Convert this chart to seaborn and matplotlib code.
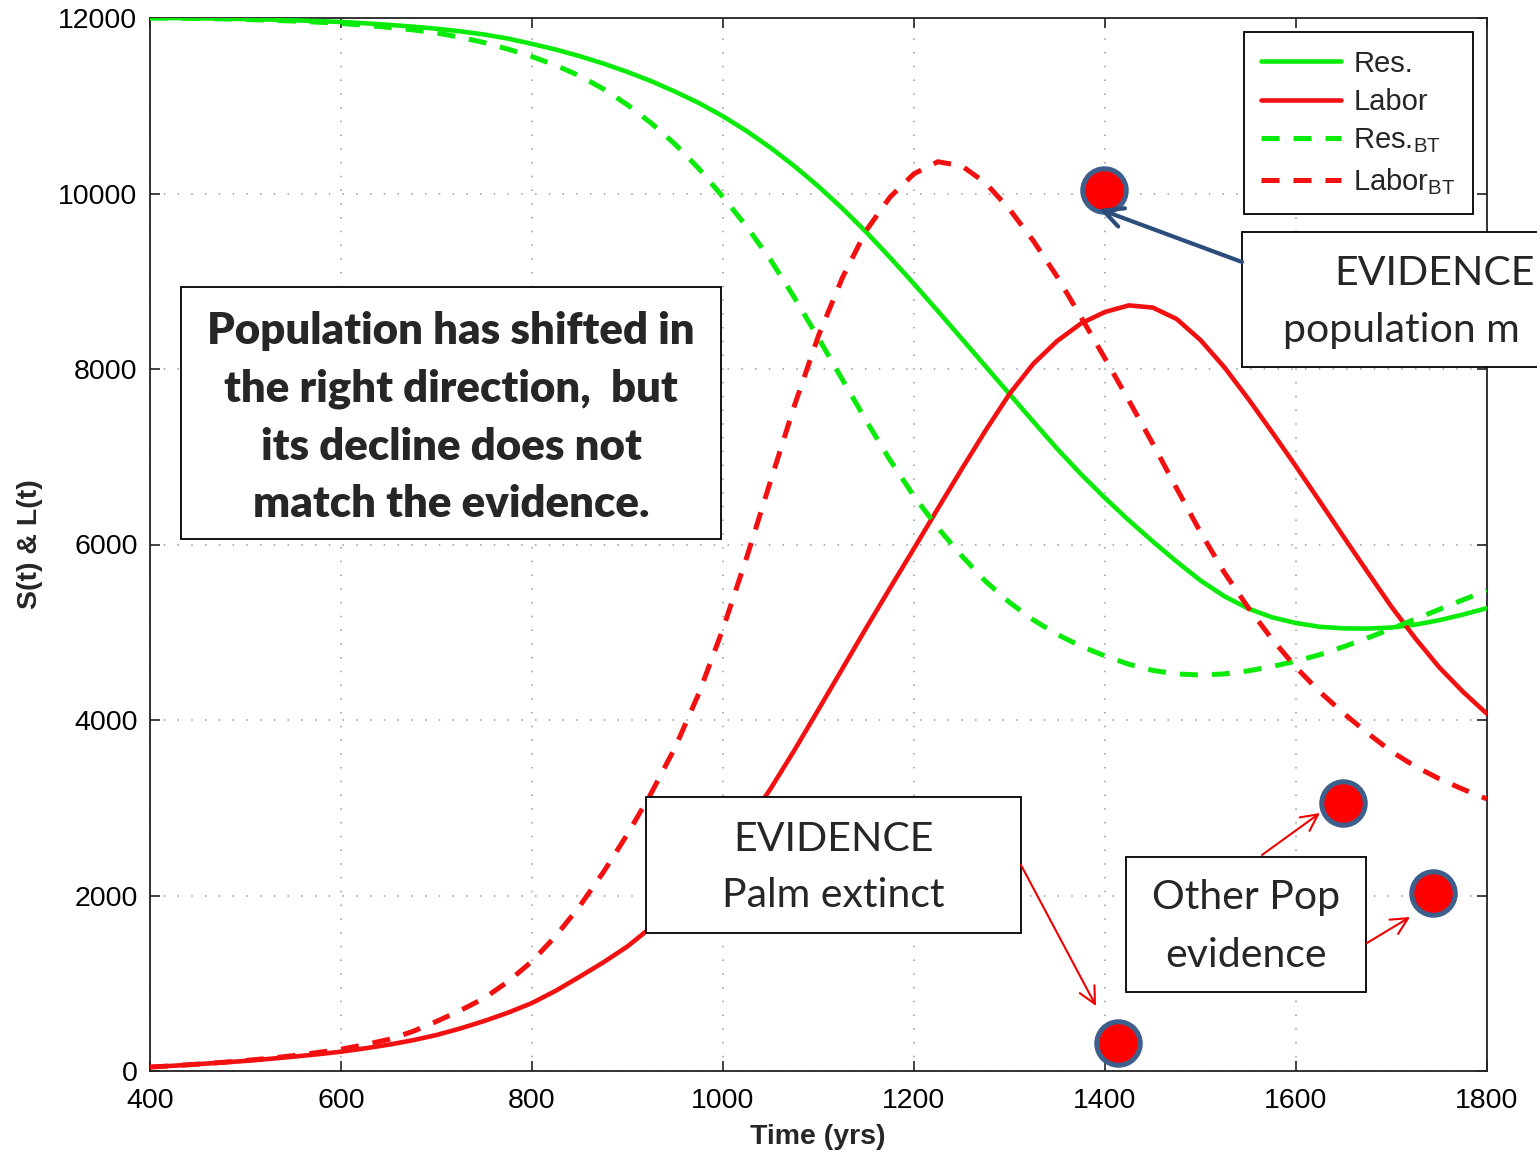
import matplotlib
matplotlib.use("Agg")
import matplotlib.pyplot as plt
import numpy as np
import pandas as pd
import seaborn as sns
from matplotlib.patches import Rectangle

# ---- model output (years, resource and labour stocks) ----
years = list(range(400, 1801, 25))

res = [12000, 11999, 11997, 11993, 11988, 11982, 11974, 11965, 11955, 11940,
       11922, 11902, 11878, 11848, 11812, 11765, 11705, 11640, 11565, 11480,
       11385, 11280, 11160, 11030, 10880, 10710, 10520, 10310, 10080, 9830,
       9560, 9270, 8970, 8660, 8345, 8030, 7715, 7400, 7090, 6800,
       6530, 6275, 6035, 5805, 5590, 5410, 5270, 5170, 5105, 5062,
       5044, 5042, 5054, 5087, 5137, 5202, 5275]

labor = [45, 60, 78, 96, 115, 138, 163, 190, 220, 258,
         300, 350, 410, 485, 570, 665, 775, 915, 1075, 1240,
         1420, 1640, 1890, 2170, 2470, 2820, 3220, 3660, 4120, 4585,
         5050, 5505, 5955, 6410, 6860, 7300, 7716, 8060, 8320, 8520,
         8650, 8725, 8700, 8570, 8330, 8020, 7660, 7280, 6890, 6490,
         6085, 5685, 5290, 4930, 4600, 4320, 4070]

res_bt = [12000, 11998, 11995, 11990, 11983, 11975, 11965, 11953, 11938, 11918,
          11893, 11865, 11830, 11780, 11720, 11645, 11560, 11460, 11340, 11190,
          11010, 10800, 10560, 10280, 9960, 9620, 9240, 8810, 8350, 7880,
          7410, 6960, 6550, 6190, 5870, 5580, 5340, 5140, 4975, 4840,
          4730, 4635, 4565, 4525, 4513, 4525, 4560, 4610, 4670, 4745,
          4835, 4935, 5040, 5150, 5260, 5370, 5475]

labor_bt = [45, 60, 78, 98, 120, 145, 175, 210, 248, 300,
            360, 450, 565, 690, 830, 1020, 1250, 1540, 1880, 2270,
            2700, 3170, 3690, 4310, 5040, 5860, 6730, 7590, 8380, 9040,
            9580, 9960, 10225, 10362, 10315, 10120, 9820, 9460, 9050, 8590,
            8120, 7640, 7150, 6640, 6140, 5680, 5280, 4920, 4600, 4320,
            4075, 3850, 3640, 3470, 3330, 3210, 3100]

series_names = ["Res.", "Labor", "Res.$_{\\mathrm{BT}}$", "Labor$_{\\mathrm{BT}}$"]

# ---- observed evidence points ----
evidence_year = [1399, 1414, 1649, 1743]
evidence_pop = [10040, 320, 3050, 2030]

GREEN = "#0AEB0A"
RED = "#F21010"
DOT_EDGE = "#3E5F8C"
ARROW_BLUE = "#2C4C7C"

df = pd.concat([
    pd.DataFrame({"year": years, "value": vals, "series": name})
    for name, vals in zip(series_names, [res, labor, res_bt, labor_bt])
], ignore_index=True)

sns.set_style("ticks")
plt.rcParams["font.family"] = ["Liberation Sans", "DejaVu Sans"]
plt.rcParams["mathtext.fontset"] = "custom"
plt.rcParams["mathtext.rm"] = "Liberation Sans"
plt.rcParams["mathtext.it"] = "Liberation Sans:italic"
plt.rcParams["mathtext.bf"] = "Liberation Sans:bold"

fig = plt.figure(figsize=(15.37, 11.51), dpi=100)
ax = fig.add_axes([150 / 1537, 1 - 1071 / 1151, 1337 / 1537, 1053 / 1151])

palette = {series_names[0]: GREEN, series_names[1]: RED,
           series_names[2]: GREEN, series_names[3]: RED}
dash_seq = (3.6, 2.8)
dashes = {series_names[0]: "", series_names[1]: "",
          series_names[2]: dash_seq, series_names[3]: dash_seq}

sns.lineplot(data=df, x="year", y="value", hue="series", style="series",
             hue_order=series_names, style_order=series_names,
             palette=palette, dashes=dashes, linewidth=3.3, ax=ax, zorder=3)

SOLID_LW = 3.3
DASH_LW = 3.6

# stroke widths: solid runs vs BT (dashed) runs
for ln in ax.lines:
    if ln.get_linestyle() in ("-", "solid"):
        ln.set_linewidth(SOLID_LW)
    else:
        ln.set_linewidth(DASH_LW)
        ln.set_dashes(dash_seq)

# evidence markers
sns.scatterplot(x=evidence_year, y=evidence_pop, s=980, color="#FF0000",
                edgecolor=DOT_EDGE, linewidth=3.6, ax=ax, zorder=8,
                clip_on=False, legend=False)

ax.set_xlim(400, 1800)
ax.set_ylim(0, 12000)
ax.set_xticks(range(400, 1801, 200))
ax.set_yticks(range(0, 12001, 2000))
ax.grid(True, linestyle=(0, (1, 8)), color="#9a9a9a", linewidth=1.1)
ax.set_axisbelow(True)
for sp in ax.spines.values():
    sp.set_visible(True)
    sp.set_linewidth(1.3)
    sp.set_color("#222222")
ax.tick_params(direction="in", length=7, width=1.2, top=True, right=True,
               labelsize=20.5, pad=9, colors="#222222", labelcolor="black")
ax.tick_params(axis="x", pad=12)

ax.set_xlabel("Time (yrs)", fontsize=20.5, fontweight="bold")
ax.set_ylabel("S(t) & L(t)", fontsize=20.5, fontweight="bold")
ax.xaxis.set_label_coords(0.4996, (1071 - 1124) / 1053)
ax.yaxis.set_label_coords((43 - 150) / 1337, 0.5)

# legend
old = ax.get_legend()
handles = old.legend_handles
labels = [t.get_text() for t in old.texts]
old.remove()
for h in handles[:2]:
    h.set_linewidth(SOLID_LW)
for h in handles[2:]:
    h.set_linewidth(DASH_LW)
    h.set_dashes(dash_seq)
leg = ax.legend(handles, labels, loc="upper right",
                bbox_to_anchor=(1473 / 1537, 1 - 32 / 1151),
                bbox_transform=fig.transFigure, fontsize=21,
                handlelength=2.75, handletextpad=0.4, borderpad=0.6,
                labelspacing=0.36, fancybox=False, framealpha=1,
                edgecolor="black", borderaxespad=0)
leg.get_frame().set_linewidth(1.3)
leg.set_zorder(10)


def box(x0, y0, x1, y1):
    r = Rectangle((x0, y0), x1 - x0, y1 - y0, facecolor="white",
                  edgecolor="black", linewidth=1.3, zorder=6, clip_on=False)
    ax.add_patch(r)


TXT = ["Lato", "DejaVu Sans"]
NOTE_SIZE = 29.5

# model-vs-evidence note
box(432.5, 6063, 997.9, 8934)
for yb, line in zip([8285, 7624, 6963, 6313],
                    ["Population has shifted in", "the right direction,  but",
                     "its decline does not", "match the evidence."]):
    ax.text(715.2, yb, line, ha="center", va="baseline", fontsize=31.5,
            fontweight="heavy", family=TXT, zorder=7)

# palm extinction evidence
box(919.4, 1573, 1312.0, 3122)
ax.text(1115.2, 2507, "EVIDENCE", ha="center", va="baseline",
        fontsize=NOTE_SIZE, family=TXT, zorder=7)
ax.text(1115.2, 1869, "Palm extinct", ha="center", va="baseline",
        fontsize=NOTE_SIZE, family=TXT, zorder=7)

# other population evidence
box(1422.0, 900, 1673.3, 2439)
ax.text(1547.6, 1846, "Other Pop", ha="center", va="baseline",
        fontsize=NOTE_SIZE, family=TXT, zorder=7)
ax.text(1547.6, 1185, "evidence", ha="center", va="baseline",
        fontsize=NOTE_SIZE, family=TXT, zorder=7)

# population maximum evidence (runs off the right edge)
box(1543.5, 8023, 1950.0, 9561)
ax.text(1745.5, 8957, "EVIDENCE", ha="center", va="baseline",
        fontsize=NOTE_SIZE, family=TXT, zorder=7, clip_on=False)
ax.text(1586.4, 8308, "population m", ha="left", va="baseline",
        fontsize=NOTE_SIZE, family=TXT, zorder=7, clip_on=False)

# arrows
ax.annotate("", xy=(1393.7, 9823), xytext=(1543.5, 9219),
            arrowprops=dict(arrowstyle="->,head_length=0.7,head_width=0.35",
                            color=ARROW_BLUE, lw=3.0, mutation_scale=20,
                            shrinkA=0, shrinkB=0),
            annotation_clip=False, zorder=9)
red_arrow = dict(arrowstyle="->,head_length=0.6,head_width=0.3", color="#F00000",
                 lw=1.5, mutation_scale=20, shrinkA=0, shrinkB=0)
ax.annotate("", xy=(1390.6, 741), xytext=(1312.0, 2348),
            arrowprops=red_arrow, annotation_clip=False, zorder=9)
ax.annotate("", xy=(1625.1, 2940), xytext=(1564.4, 2462),
            arrowprops=red_arrow, annotation_clip=False, zorder=9)
ax.annotate("", xy=(1719.4, 1755), xytext=(1674.4, 1459),
            arrowprops=red_arrow, annotation_clip=False, zorder=9)

fig.savefig("out.png", dpi=100)
